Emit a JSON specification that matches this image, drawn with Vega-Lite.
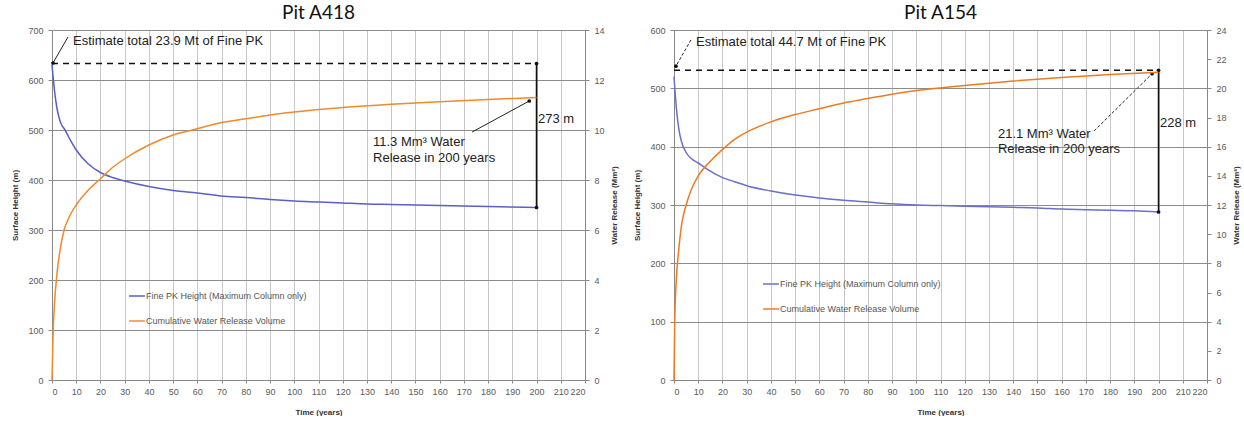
{
  "$schema": "https://vega.github.io/schema/vega-lite/v6.json",
  "padding": {"left": 11, "top": 4, "right": 0, "bottom": 0},
  "background": "white",
  "config": {
    "view": {"stroke": null},
    "font": "Liberation Sans",
    "axis": {"labelFont": "Liberation Sans", "labelFontSize": 9, "labelColor": "#5a5a5a", "titleFont": "Liberation Sans", "titleFontSize": 8, "titleFontWeight": "bold", "titleColor": "#333", "domainColor": "#888", "tickColor": "#888", "labelOverlap": false},
    "axisX": {"tickCount": 30, "labelOverlap": false},
    "title": {"font": "Lato", "fontSize": 19, "fontWeight": "normal", "color": "#111", "anchor": "middle", "offset": 3},
    "legend": {"orient": "none", "labelFont": "Liberation Sans", "labelFontSize": 9, "labelColor": "#555", "symbolType": "stroke", "symbolSize": 250, "symbolStrokeWidth": 1.5, "rowPadding": 11, "title": null, "labelLimit": 300, "labelOffset": 0}
  },
  "datasets": {
    "h418": [
      {"t": 0, "v": 630}, {"t": 1, "v": 580}, {"t": 2, "v": 545}, {"t": 3, "v": 523}, {"t": 4, "v": 510}, {"t": 5, "v": 503}, {"t": 7, "v": 485}, {"t": 10, "v": 460}, {"t": 15, "v": 432}, {"t": 20, "v": 415}, {"t": 25, "v": 405}, {"t": 30, "v": 398}, {"t": 40, "v": 387}, {"t": 50, "v": 379}, {"t": 60, "v": 374}, {"t": 70, "v": 368}, {"t": 80, "v": 365}, {"t": 90, "v": 361}, {"t": 100, "v": 358}, {"t": 110, "v": 356}, {"t": 120, "v": 354}, {"t": 130, "v": 352}, {"t": 140, "v": 351}, {"t": 150, "v": 350}, {"t": 160, "v": 349}, {"t": 170, "v": 348}, {"t": 180, "v": 347}, {"t": 190, "v": 346}, {"t": 200, "v": 345}
    ],
    "w418": [
      {"t": 0, "v": 0}, {"t": 0.5, "v": 2}, {"t": 1, "v": 3}, {"t": 2, "v": 4.2}, {"t": 3, "v": 5}, {"t": 5, "v": 6}, {"t": 7, "v": 6.5}, {"t": 10, "v": 7.0}, {"t": 15, "v": 7.6}, {"t": 20, "v": 8.05}, {"t": 25, "v": 8.5}, {"t": 30, "v": 8.85}, {"t": 40, "v": 9.4}, {"t": 50, "v": 9.8}, {"t": 60, "v": 10.05}, {"t": 70, "v": 10.3}, {"t": 80, "v": 10.45}, {"t": 90, "v": 10.6}, {"t": 100, "v": 10.72}, {"t": 120, "v": 10.9}, {"t": 140, "v": 11.03}, {"t": 160, "v": 11.13}, {"t": 180, "v": 11.22}, {"t": 200, "v": 11.3}
    ],
    "h154": [
      {"t": 0, "v": 520}, {"t": 0.5, "v": 490}, {"t": 1, "v": 465}, {"t": 2, "v": 430}, {"t": 3, "v": 410}, {"t": 5, "v": 390}, {"t": 7, "v": 380}, {"t": 10, "v": 372}, {"t": 15, "v": 358}, {"t": 20, "v": 347}, {"t": 25, "v": 340}, {"t": 30, "v": 333}, {"t": 40, "v": 324}, {"t": 50, "v": 317}, {"t": 60, "v": 312}, {"t": 70, "v": 308}, {"t": 80, "v": 305}, {"t": 90, "v": 302}, {"t": 100, "v": 300}, {"t": 110, "v": 299}, {"t": 120, "v": 298}, {"t": 130, "v": 297}, {"t": 140, "v": 296}, {"t": 150, "v": 295}, {"t": 160, "v": 293}, {"t": 170, "v": 292}, {"t": 180, "v": 291}, {"t": 190, "v": 290}, {"t": 200, "v": 288}
    ],
    "w154": [
      {"t": 0, "v": 0}, {"t": 0.3, "v": 4}, {"t": 1, "v": 7}, {"t": 2, "v": 9}, {"t": 3, "v": 10.5}, {"t": 5, "v": 12}, {"t": 7, "v": 13}, {"t": 10, "v": 14}, {"t": 15, "v": 15}, {"t": 20, "v": 15.8}, {"t": 25, "v": 16.5}, {"t": 30, "v": 17}, {"t": 40, "v": 17.7}, {"t": 50, "v": 18.2}, {"t": 60, "v": 18.6}, {"t": 70, "v": 19.0}, {"t": 80, "v": 19.3}, {"t": 90, "v": 19.6}, {"t": 100, "v": 19.85}, {"t": 120, "v": 20.2}, {"t": 140, "v": 20.5}, {"t": 160, "v": 20.75}, {"t": 180, "v": 20.95}, {"t": 200, "v": 21.1}
    ],
    "dash418": [{"t": 0, "v": 633}, {"t": 200, "v": 633}],
    "vert418": [{"t": 200, "v": 633, "v2": 345}],
    "ends418": [{"t": 200, "v": 633}, {"t": 200, "v": 345}, {"t": 0.4, "v": 634}, {"t": 197, "v": 558}],
    "arrows418": [{"t": 6.6, "v": 686, "t2": 0.4, "v2": 634}, {"t": 173.4, "v": 496, "t2": 197, "v2": 558}],
    "text418": [
      {"t": 8.7, "v": 679, "label": "Estimate total 23.9 Mt of Fine PK"},
      {"t": 132.5, "v": 476, "label": "11.3 Mm³ Water"},
      {"t": 132.5, "v": 444, "label": "Release  in 200 years"},
      {"t": 200.6, "v": 522, "label": "273 m"}
    ],
    "dash154": [{"t": 0, "v": 531}, {"t": 200, "v": 531}],
    "vert154": [{"t": 200, "v": 531, "v2": 288}],
    "ends154": [{"t": 200, "v": 531}, {"t": 200, "v": 288}, {"t": 0.8, "v": 538}, {"t": 197.3, "v": 525}],
    "arrows154": [{"t": 7, "v": 583, "t2": 0.8, "v2": 538}, {"t": 173.4, "v": 427, "t2": 197.3, "v2": 525}],
    "text154": [
      {"t": 9.1, "v": 579, "label": "Estimate total 44.7 Mt of Fine PK"},
      {"t": 133.7, "v": 422, "label": "21.1 Mm³ Water"},
      {"t": 133.7, "v": 396, "label": "Release  in 200 years"},
      {"t": 200.6, "v": 440, "label": "228 m"}
    ]
  },
  "hconcat": [
    {
      "title": "Pit A418",
      "width": 533,
      "height": 350,
      "layer": [
        {
          "layer": [
            {
              "data": {"name": "h418"},
              "mark": {"type": "line", "strokeWidth": 1.5, "interpolate": "monotone"},
              "encoding": {
                "x": {"field": "t", "type": "quantitative", "scale": {"domain": [0, 220], "nice": false}, "axis": {"values": [0,10,20,30,40,50,60,70,80,90,100,110,120,130,140,150,160,170,180,190,200,210,220], "tickCount": 30, "labelOverlap": false, "title": "Time (years)", "grid": true, "gridColor": "#c8c8c8", "gridWidth": 1, "tickSize": 3, "labelPadding": 4, "titlePadding": 12}},
                "y": {"field": "v", "type": "quantitative", "scale": {"domain": [0, 700], "nice": false}, "axis": {"values": [0,100,200,300,400,500,600,700], "title": "Surface Height (m)", "grid": true, "gridColor": "#8c8c8c", "gridWidth": 1.2, "tickSize": 4, "labelPadding": 5, "titlePadding": 8}},
                "color": {"datum": "Fine PK Height (Maximum Column only)", "type": "nominal", "scale": {"domain": ["Fine PK Height (Maximum Column only)", "Cumulative Water Release Volume"], "range": ["#5a5fc8", "#f08a2c"]}, "legend": {"legendX": 76, "legendY": 257}}
              }
            },
            {
              "data": {"name": "dash418"},
              "mark": {"type": "line", "color": "#111", "strokeDash": [6, 5], "strokeWidth": 1.6},
              "encoding": {"x": {"field": "t", "type": "quantitative"}, "y": {"field": "v", "type": "quantitative"}}
            },
            {
              "data": {"name": "vert418"},
              "mark": {"type": "rule", "color": "#111", "strokeWidth": 1.6},
              "encoding": {"x": {"field": "t", "type": "quantitative"}, "y": {"field": "v", "type": "quantitative"}, "y2": {"field": "v2"}}
            },
            {
              "data": {"name": "arrows418"},
              "mark": {"type": "rule", "color": "#222", "strokeWidth": 1},
              "encoding": {"x": {"field": "t", "type": "quantitative"}, "y": {"field": "v", "type": "quantitative"}, "x2": {"field": "t2"}, "y2": {"field": "v2"}}
            },
            {
              "data": {"name": "ends418"},
              "mark": {"type": "point", "filled": true, "color": "#111", "size": 14, "opacity": 1},
              "encoding": {"x": {"field": "t", "type": "quantitative"}, "y": {"field": "v", "type": "quantitative"}}
            },
            {
              "data": {"name": "text418"},
              "mark": {"type": "text", "align": "left", "baseline": "middle", "fontSize": 13, "color": "#222", "font": "Liberation Sans"},
              "encoding": {"x": {"field": "t", "type": "quantitative"}, "y": {"field": "v", "type": "quantitative"}, "text": {"field": "label"}}
            }
          ]
        },
        {
          "data": {"name": "w418"},
          "mark": {"type": "line", "strokeWidth": 1.5, "interpolate": "monotone"},
          "encoding": {
            "x": {"field": "t", "type": "quantitative", "axis": {"values": [0,10,20,30,40,50,60,70,80,90,100,110,120,130,140,150,160,170,180,190,200,210,220], "tickCount": 30, "labelOverlap": false, "title": "Time (years)", "grid": true, "gridColor": "#c8c8c8", "gridWidth": 1, "tickSize": 3, "labelPadding": 4, "titlePadding": 12}},
            "y": {"field": "v", "type": "quantitative", "scale": {"domain": [0, 14], "nice": false}, "axis": {"orient": "right", "values": [0,2,4,6,8,10,12,14], "title": "Water Release (Mm³)", "titleAngle": 270, "titleBaseline": "top", "grid": false, "tickSize": 4, "labelPadding": 5, "titlePadding": 6}},
            "color": {"datum": "Cumulative Water Release Volume", "type": "nominal"}
          }
        }
      ],
      "resolve": {"scale": {"y": "independent"}, "axis": {"y": "independent"}}
    },
    {
      "title": "Pit A154",
      "width": 533,
      "height": 350,
      "layer": [
        {
          "layer": [
            {
              "data": {"name": "h154"},
              "mark": {"type": "line", "strokeWidth": 1.5, "interpolate": "monotone"},
              "encoding": {
                "x": {"field": "t", "type": "quantitative", "scale": {"domain": [0, 220], "nice": false}, "axis": {"values": [0,10,20,30,40,50,60,70,80,90,100,110,120,130,140,150,160,170,180,190,200,210,220], "tickCount": 30, "labelOverlap": false, "title": "Time (years)", "grid": true, "gridColor": "#c8c8c8", "gridWidth": 1, "tickSize": 3, "labelPadding": 4, "titlePadding": 12}},
                "y": {"field": "v", "type": "quantitative", "scale": {"domain": [0, 600], "nice": false}, "axis": {"values": [0,100,200,300,400,500,600], "title": "Surface Height (m)", "grid": true, "gridColor": "#8c8c8c", "gridWidth": 1.2, "tickSize": 4, "labelPadding": 5, "titlePadding": 8}},
                "color": {"datum": "Fine PK Height (Maximum Column only)", "type": "nominal", "scale": {"domain": ["Fine PK Height (Maximum Column only)", "Cumulative Water Release Volume"], "range": ["#6a6fc8", "#f07a22"]}, "legend": {"legendX": 88, "legendY": 245}}
              }
            },
            {
              "data": {"name": "dash154"},
              "mark": {"type": "line", "color": "#111", "strokeDash": [6, 5], "strokeWidth": 1.6},
              "encoding": {"x": {"field": "t", "type": "quantitative"}, "y": {"field": "v", "type": "quantitative"}}
            },
            {
              "data": {"name": "vert154"},
              "mark": {"type": "rule", "color": "#111", "strokeWidth": 1.6},
              "encoding": {"x": {"field": "t", "type": "quantitative"}, "y": {"field": "v", "type": "quantitative"}, "y2": {"field": "v2"}}
            },
            {
              "data": {"name": "arrows154"},
              "mark": {"type": "rule", "color": "#222", "strokeWidth": 1, "strokeDash": [3, 2]},
              "encoding": {"x": {"field": "t", "type": "quantitative"}, "y": {"field": "v", "type": "quantitative"}, "x2": {"field": "t2"}, "y2": {"field": "v2"}}
            },
            {
              "data": {"name": "ends154"},
              "mark": {"type": "point", "filled": true, "color": "#111", "size": 14, "opacity": 1},
              "encoding": {"x": {"field": "t", "type": "quantitative"}, "y": {"field": "v", "type": "quantitative"}}
            },
            {
              "data": {"name": "text154"},
              "mark": {"type": "text", "align": "left", "baseline": "middle", "fontSize": 13, "color": "#222", "font": "Liberation Sans"},
              "encoding": {"x": {"field": "t", "type": "quantitative"}, "y": {"field": "v", "type": "quantitative"}, "text": {"field": "label"}}
            }
          ]
        },
        {
          "data": {"name": "w154"},
          "mark": {"type": "line", "strokeWidth": 1.5, "interpolate": "monotone"},
          "encoding": {
            "x": {"field": "t", "type": "quantitative", "axis": {"values": [0,10,20,30,40,50,60,70,80,90,100,110,120,130,140,150,160,170,180,190,200,210,220], "tickCount": 30, "labelOverlap": false, "title": "Time (years)", "grid": true, "gridColor": "#c8c8c8", "gridWidth": 1, "tickSize": 3, "labelPadding": 4, "titlePadding": 12}},
            "y": {"field": "v", "type": "quantitative", "scale": {"domain": [0, 24], "nice": false}, "axis": {"orient": "right", "values": [0,2,4,6,8,10,12,14,16,18,20,22,24], "title": "Water Release (Mm³)", "titleAngle": 270, "titleBaseline": "top", "grid": false, "tickSize": 4, "labelPadding": 5, "titlePadding": 6}},
            "color": {"datum": "Cumulative Water Release Volume", "type": "nominal"}
          }
        }
      ],
      "resolve": {"scale": {"y": "independent"}, "axis": {"y": "independent"}}
    }
  ],
  "spacing": 14,
  "resolve": {"scale": {"color": "independent"}, "legend": {"color": "independent"}}
}
